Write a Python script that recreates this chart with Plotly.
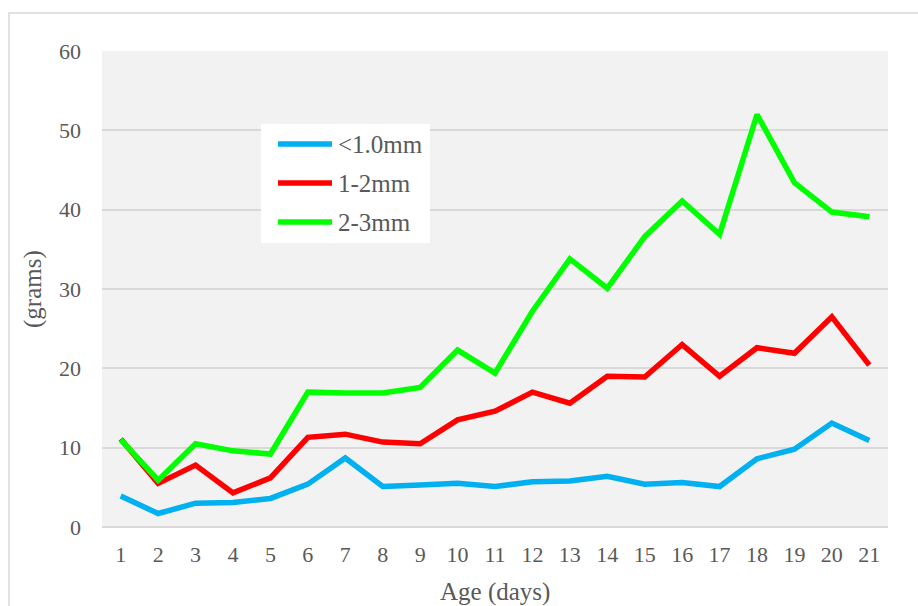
import plotly.graph_objects as go

days = list(range(1, 22))
series_names = ["<1.0mm", "1-2mm", "2-3mm"]
small = [3.9, 1.7, 3.0, 3.1, 3.6, 5.4, 8.7, 5.1, 5.3, 5.5, 5.1, 5.7, 5.8, 6.4, 5.4, 5.6, 5.1, 8.6, 9.8, 13.1, 10.9]
medium = [11.1, 5.5, 7.8, 4.3, 6.2, 11.3, 11.7, 10.7, 10.5, 13.5, 14.6, 17.0, 15.6, 19.0, 18.9, 23.0, 19.0, 22.6, 21.9, 26.5, 20.4]
large = [11.0, 5.9, 10.5, 9.6, 9.2, 17.0, 16.9, 16.9, 17.6, 22.3, 19.4, 27.2, 33.8, 30.1, 36.6, 41.1, 36.9, 52.0, 43.4, 39.7, 39.1]
colors = ["#00B0F0", "#FF0000", "#00FF00"]
y_ticks = [0, 10, 20, 30, 40, 50, 60]

FONT = "Liberation Serif"
TXT = "#595959"

W, H = 918, 606
L, R, T, B = 102, 30, 51, 79
pw, ph = W - L - R, H - T - B

fig = go.Figure()
for name, vals, col in zip(series_names, [small, medium, large], colors):
    fig.add_trace(go.Scatter(
        x=days, y=vals, mode="lines", name=name, hoverinfo="skip",
        line=dict(color=col, width=5.5, shape="linear"),
    ))

def px_x(p):
    return (p - L) / pw

def px_y(p):
    return 1 - (p - T) / ph

# manual legend (box, sample lines, labels)
shapes = [
    dict(type="rect", xref="paper", yref="paper",
         x0=px_x(9), x1=px_x(940), y0=px_y(640), y1=px_y(13),
         line=dict(color="#D9D9D9", width=1.5), fillcolor="rgba(0,0,0,0)",
         layer="below"),
    dict(type="rect", xref="paper", yref="paper",
         x0=px_x(261), x1=px_x(430), y0=px_y(243), y1=px_y(124),
         line=dict(width=0), fillcolor="white", layer="above"),
]
annotations = [
    dict(text="(grams)", x=px_x(33), y=0.5, xref="paper", yref="paper",
         xanchor="center", yanchor="middle", textangle=-90, showarrow=False,
         font=dict(family=FONT, size=25, color=TXT)),
    dict(text="Age (days)", x=0.5, y=px_y(592), xref="paper", yref="paper",
         xanchor="center", yanchor="middle", showarrow=False,
         font=dict(family=FONT, size=25, color=TXT)),
]
legend_rows = [144, 183, 222]
for name, col, ry in zip(series_names, colors, legend_rows):
    shapes.append(dict(type="line", xref="paper", yref="paper",
                       x0=px_x(278), x1=px_x(332), y0=px_y(ry), y1=px_y(ry),
                       line=dict(color=col, width=5.5), layer="above"))
    annotations.append(dict(text=name, x=px_x(336), y=px_y(ry), xref="paper", yref="paper",
                            xanchor="left", yanchor="middle", showarrow=False,
                            font=dict(family=FONT, size=25, color=TXT)))

fig.update_layout(
    width=W, height=H,
    margin=dict(l=L, r=R, t=T, b=B, pad=0),
    paper_bgcolor="white",
    plot_bgcolor="#F2F2F2",
    font=dict(family=FONT, color=TXT, size=22),
    showlegend=False,
    hovermode=False,
    xaxis=dict(
        type="linear", range=[0.5, 21.5], tickmode="array", tickvals=days,
        ticktext=[str(d) for d in days], showgrid=False, zeroline=False,
        showline=False, ticks="", ticklabelstandoff=12,
        tickfont=dict(family=FONT, size=22, color=TXT),
    ),
    yaxis=dict(
        range=[0, 60], tickmode="array", tickvals=y_ticks,
        showgrid=True, gridcolor="#D9D9D9", gridwidth=1.5,
        zeroline=True, zerolinecolor="#D9D9D9", zerolinewidth=1.5,
        showline=False, ticks="", ticklabelstandoff=20,
        tickfont=dict(family=FONT, size=22, color=TXT),
    ),
    annotations=annotations,
    shapes=shapes,
)

fig.write_html("out.html", config={"displayModeBar": False},
               post_script="document.body.style.margin='0';document.body.style.overflow='hidden';")
